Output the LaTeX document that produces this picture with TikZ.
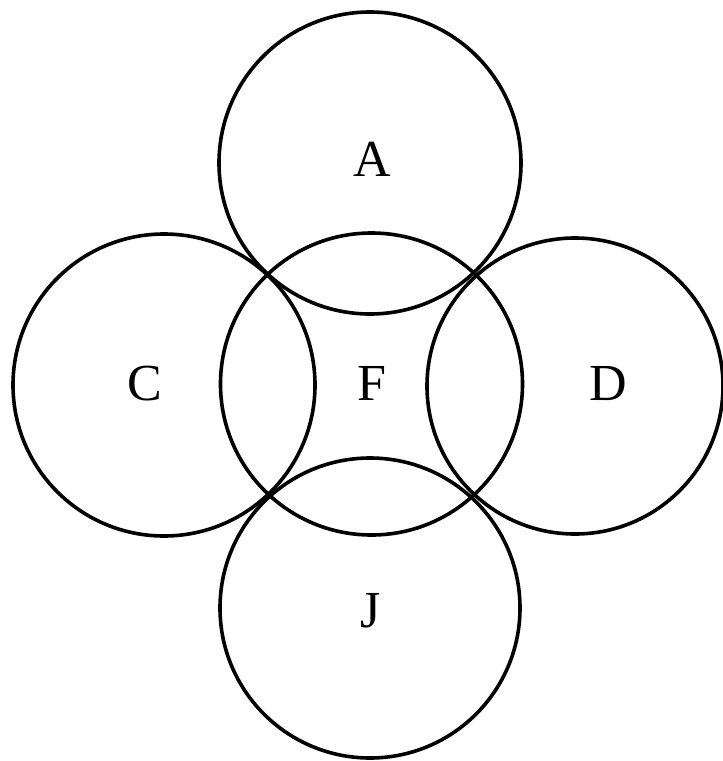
\documentclass[tikz,border=0pt]{standalone}
\usepackage{fontspec}
\setmainfont{Liberation Serif}
\begin{document}
\begin{tikzpicture}[x=1pt,y=-1pt,
  ring/.style={circle,draw=black,line width=3.6pt,inner sep=0pt},
  lbl/.style={anchor=base,inner sep=0pt,font=\fontsize{52}{60}\selectfont}]
\useasboundingbox (0,0) rectangle (723,761);
\node[ring,minimum size=302pt] (cA) at (370,163) {};
\node[ring,minimum size=302pt] (cF) at (371.5,384) {};
\node[ring,minimum size=302pt] (cC) at (164,385) {};
\node[ring,minimum size=296pt] (cD) at (575,386) {};
\node[ring,minimum size=300pt] (cJ) at (370,608) {};
\node[lbl] (lA) at (372,176) {A};
\node[lbl] (lF) at (372,400) {F};
\node[lbl] (lC) at (145,400) {C};
\node[lbl] (lD) at (608,400) {D};
\node[lbl] (lJ) at (371,627) {J};
\end{tikzpicture}
\end{document}
